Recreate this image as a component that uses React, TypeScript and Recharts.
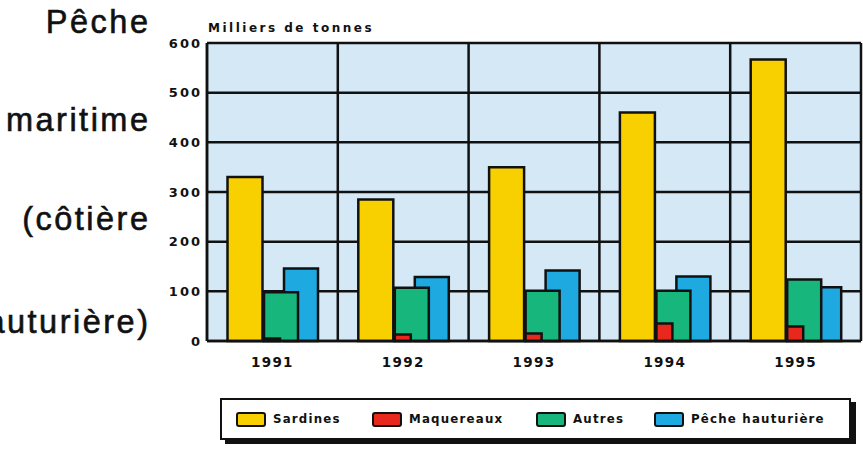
import React from 'react';
import { ComposedChart, Bar, XAxis, YAxis, CartesianGrid, ReferenceLine } from 'recharts';

const years = ['1991', '1992', '1993', '1994', '1995'];
const sardines = [330, 285, 350, 460, 567];
const maquereaux = [5, 13, 15, 35, 29];
const autres = [98, 107, 101, 101, 124];
const hauturiere = [146, 129, 142, 130, 108];
const yTicks = [0, 100, 200, 300, 400, 500, 600];

const titleLines = ['Pêche', 'maritime', '(côtière', 'hauturière)'];
const unitLabel = 'Milliers de tonnes';
const seriesNames = ['Sardines', 'Maquereaux', 'Autres', 'Pêche hauturière'];
const seriesKeys = ['sardines', 'maquereaux', 'autres', 'hauturiere'];
const seriesColors = ['#f8d000', '#e8281c', '#17b67c', '#1ea9e1'];

const data = years.map((year, i) => ({
  year,
  sardines: sardines[i],
  maquereaux: maquereaux[i],
  autres: autres[i],
  hauturiere: hauturiere[i],
}));

const INK = '#111';
const BOLD_FONT = '"DejaVu Sans", sans-serif';

export default function App() {
  const titleBaselines = [33, 131, 230, 333];
  const itemWidths = [136, 164, 118, 190];
  return (
    <div style={{ position: 'absolute', left: 0, top: 0, width: 863, height: 449, background: '#fff', overflow: 'hidden' }}>
      <ComposedChart
        width={863}
        height={449}
        data={data}
        margin={{ top: 43, right: 2, bottom: 78, left: 0 }}
      >
        <CartesianGrid
          xAxisId="cat"
          vertical={false}
          stroke={INK}
          strokeWidth={2.5}
          fill="#d5e8f6"
          fillOpacity={1}
        />
        <XAxis xAxisId="s" dataKey="year" hide height={0} padding={{ left: -27.5, right: 27.5 }} />
        <XAxis xAxisId="m" dataKey="year" hide height={0} padding={{ left: 0, right: 0 }} />
        <XAxis xAxisId="a" dataKey="year" hide height={0} padding={{ left: 9, right: -9 }} />
        <XAxis xAxisId="h" dataKey="year" hide height={0} padding={{ left: 29, right: -29 }} />
        <XAxis
          xAxisId="cat"
          dataKey="year"
          height={30}
          axisLine={{ stroke: INK, strokeWidth: 2.5 }}
          tickLine={false}
          tickSize={0}
          tickMargin={16}
          tick={{ fill: INK, fontSize: 13.5, fontWeight: 700, fontFamily: BOLD_FONT, letterSpacing: 1.3 }}
        />
        <YAxis
          width={207}
          domain={[0, 600]}
          ticks={yTicks}
          interval={0}
          axisLine={{ stroke: INK, strokeWidth: 2.5 }}
          tickLine={false}
          tickSize={0}
          tickMargin={5}
          tick={{ fill: INK, fontSize: 13, fontWeight: 700, fontFamily: BOLD_FONT, letterSpacing: 2 }}
        />
        {years.map((y) => (
          <ReferenceLine key={'s' + y} xAxisId="cat" x={y} position="start" stroke={INK} strokeWidth={2.5} />
        ))}
        <ReferenceLine xAxisId="cat" x={years[years.length - 1]} position="end" stroke={INK} strokeWidth={2.5} />
        <Bar xAxisId="h" dataKey="hauturiere" name={seriesNames[3]} fill={seriesColors[3]} stroke={INK} strokeWidth={2.5} barSize={34} isAnimationActive={false} />
        <Bar xAxisId="s" dataKey="sardines" name={seriesNames[0]} fill={seriesColors[0]} stroke={INK} strokeWidth={2.5} barSize={35} isAnimationActive={false} />
        <Bar xAxisId="a" dataKey="autres" name={seriesNames[2]} fill={seriesColors[2]} stroke={INK} strokeWidth={2.5} barSize={34} isAnimationActive={false} />
        <Bar xAxisId="m" dataKey="maquereaux" name={seriesNames[1]} fill={seriesColors[1]} stroke={INK} strokeWidth={2.5} barSize={16} isAnimationActive={false} />
      </ComposedChart>

      <svg width={863} height={449} style={{ position: 'absolute', left: 0, top: 0, pointerEvents: 'none' }}>
        {titleLines.map((t, i) => (
          <text
            key={t}
            x={150.5}
            y={titleBaselines[i]}
            textAnchor="end"
            fontFamily='"Liberation Sans", Arial, sans-serif'
            fontSize={32.5}
            letterSpacing={2.5}
            fill={INK}
            stroke={INK}
            strokeWidth={0.6}
          >
            {t}
          </text>
        ))}
        <text x={208} y={32} fontFamily={BOLD_FONT} fontWeight={700} fontSize={12} letterSpacing={2.5} fill={INK}>
          {unitLabel}
        </text>
      </svg>

      <div
        style={{
          position: 'absolute',
          left: 220,
          top: 398,
          width: 631,
          height: 42,
          boxSizing: 'border-box',
          border: '2px solid ' + INK,
          boxShadow: '5px 4px 0 ' + INK,
          background: '#fff',
          display: 'flex',
          alignItems: 'center',
          paddingLeft: 14,
          fontFamily: BOLD_FONT,
          fontWeight: 700,
          fontSize: 11.8,
          letterSpacing: 1.2,
          color: INK,
          whiteSpace: 'nowrap',
        }}
      >
        {seriesKeys.map((k, i) => (
          <div key={k} style={{ display: 'flex', alignItems: 'center', flexShrink: 0, width: itemWidths[i] }}>
            <div
              style={{
                width: 26,
                height: 11,
                border: '2.5px solid ' + INK,
                borderRadius: 3,
                background: seriesColors[i],
                marginRight: 7,
                flexShrink: 0,
              }}
            />
            <span>{seriesNames[i]}</span>
          </div>
        ))}
      </div>
    </div>
  );
}
